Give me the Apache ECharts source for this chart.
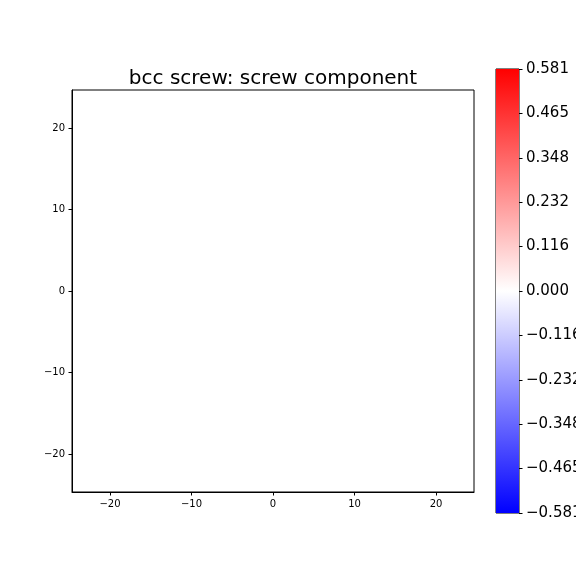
<!DOCTYPE html>
<html>
<head>
<meta charset="utf-8">
<script src="https://cdn.jsdelivr.net/npm/echarts@6/dist/echarts.min.js"></script>
<style>html,body{margin:0;padding:0;background:#fff}#c{width:576px;height:576px}</style>
</head>
<body>
<div id="c"></div>
<script>
// Data
const titleText = 'bcc screw: screw component';
const xRange = [-24.66, 24.66];
const yRange = [-24.66, 24.66];
const xTicks = [-20, -10, 0, 10, 20];
const yTicks = [-20, -10, 0, 10, 20];
const points = []; // the reference shows no visible marks
const cbarRange = [-0.5808, 0.5808];
const cbarTicks = [-0.5808, -0.46464, -0.34848, -0.23232, -0.11616, 0, 0.11616, 0.23232, 0.34848, 0.46464, 0.5808];

const fmtNum = v => (v < 0 ? '\u2212' : '') + Math.abs(v).toString();
const fmtCbar = v => {
  const s = Math.abs(v).toFixed(3);
  return (v < -1e-9 ? '\u2212' : '') + s;
};

const chart = echarts.init(document.getElementById('c'), null, {renderer: 'canvas'});
const font = 'DejaVu Sans';
const axisLine = {show: true, onZero: false, lineStyle: {color: '#000', width: 1}};
const tick = (vals) => ({show: true, inside: false, length: 3.5, customValues: vals, lineStyle: {color: '#000', width: 1}});

chart.setOption({
  backgroundColor: '#fff',
  animation: false,
  title: {
    text: titleText,
    left: 268, top: 64, textAlign: 'center',
    textStyle: {fontFamily: font, fontSize: 20, fontWeight: 'normal', color: '#000'}
  },
  grid: [
    {left: 72, top: 90, width: 402, height: 402, show: true, borderColor: '#000', borderWidth: 1, backgroundColor: '#fff', containLabel: false, outerBoundsMode: 'none'},
    {left: 496, top: 69, width: 23, height: 444, show: true, borderColor: '#000', borderWidth: 1, containLabel: false, outerBoundsMode: 'none'}
  ],
  xAxis: [
    {type: 'value', gridIndex: 0, min: xRange[0], max: xRange[1], position: 'bottom',
     axisLine: axisLine, axisTick: tick(xTicks), splitLine: {show: false},
     axisLabel: {customValues: xTicks, formatter: fmtNum, margin: 7, fontFamily: font, fontSize: 10, color: '#000'}},
    {type: 'value', gridIndex: 1, min: 0, max: 1, show: false}
  ],
  yAxis: [
    {type: 'value', gridIndex: 0, min: yRange[0], max: yRange[1], position: 'left',
     axisLine: axisLine, axisTick: tick(yTicks), splitLine: {show: false},
     axisLabel: {customValues: yTicks, formatter: fmtNum, margin: 7, fontFamily: font, fontSize: 10, color: '#000'}},
    {type: 'value', gridIndex: 1, min: cbarRange[0], max: cbarRange[1], position: 'right',
     axisLine: {show: false, onZero: false}, axisTick: tick(cbarTicks), splitLine: {show: false},
     axisLabel: {customValues: cbarTicks, formatter: fmtCbar, margin: 7, fontFamily: font, fontSize: 15, color: '#000'}}
  ],
  series: [
    {type: 'scatter', xAxisIndex: 0, yAxisIndex: 0, data: points, symbolSize: 4},
    {type: 'custom', xAxisIndex: 1, yAxisIndex: 1, silent: true, z: 1,
     data: [[0, 1, cbarRange[0], cbarRange[1]]],
     renderItem: function (params, api) {
       const p0 = api.coord([api.value(0), api.value(3)]);
       const p1 = api.coord([api.value(1), api.value(2)]);
       return {
         type: 'rect',
         shape: {x: p0[0], y: p0[1], width: p1[0] - p0[0], height: p1[1] - p0[1]},
         style: {fill: new echarts.graphic.LinearGradient(0, 0, 0, 1, [
           {offset: 0, color: '#ff0000'}, {offset: 0.5, color: '#ffffff'}, {offset: 1, color: '#0000ff'}
         ])}
       };
     }}
  ]
});
</script>
</body>
</html>
